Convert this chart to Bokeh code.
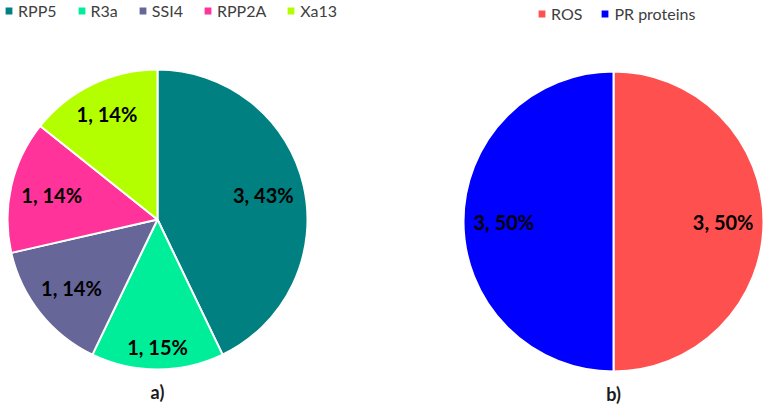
import math
from bokeh.plotting import figure
from bokeh.models import ColumnDataSource, Range1d, Legend, LegendItem, Label
from bokeh.core.properties import value
from bokeh.embed import file_html
from bokeh.resources import INLINE

# ---- data ----
genes = ["RPP5", "R3a", "SSI4", "RPP2A", "Xa13"]
gene_counts = [3, 1, 1, 1, 1]
gene_pct_labels = ["43%", "15%", "14%", "14%", "14%"]
gene_colors = ["#008080", "#00EE9A", "#666699", "#FF3399", "#B3FF00"]

defense = ["ROS", "PR proteins"]
defense_counts = [3, 3]
defense_pct_labels = ["50%", "50%"]
defense_colors = ["#FF5050", "#0000FF"]

panel_labels = ["a)", "b)"]

# ---- layout (canvas pixel space mapped 1:1) ----
W, H = 770, 411
p = figure(width=W, height=H, output_backend="svg", toolbar_location=None,
           x_range=Range1d(0, W), y_range=Range1d(0, H),
           min_border=0, outline_line_color=None)
p.axis.visible = False
p.grid.visible = False
p.background_fill_color = None
p.border_fill_color = None

LABEL_FONT = value("Lato")
R = 150
BOX_W, BOX_H, PAD = 62, 20, 9


def inside_end(cx, cy, r, mid):
    lo, hi = 0.0, r
    c, s = math.cos(mid), math.sin(mid)
    for _ in range(60):
        d = (lo + hi) / 2
        x, y = d * c, d * s
        far = max(math.hypot(x + sx * BOX_W / 2, y + sy * BOX_H / 2)
                  for sx in (-1, 1) for sy in (-1, 1))
        if far <= r - PAD:
            lo = d
        else:
            hi = d
    return cx + lo * c, cy + lo * s


def pie(cx, cy, names, counts, pcts, colors, legend_x, legend_y, spacing):
    total = sum(counts)
    starts, ends, lx, ly, texts = [], [], [], [], []
    cum = 0
    for n, v, pc in zip(names, counts, pcts):
        a0 = math.pi / 2 - 2 * math.pi * cum / total
        cum += v
        a1 = math.pi / 2 - 2 * math.pi * cum / total
        starts.append(a0)
        ends.append(a1)
        tx, ty = inside_end(cx, cy, R, (a0 + a1) / 2)
        lx.append(tx)
        ly.append(ty)
        texts.append(f"{v}, {pc}")
    src = ColumnDataSource(dict(x=[cx] * len(names), y=[cy] * len(names),
                                start=starts, end=ends, color=colors,
                                name=names, lx=lx, ly=ly, text=texts))
    r = p.wedge(x="x", y="y", radius=R, start_angle="start", end_angle="end",
                direction="clock", fill_color="color", line_color="white",
                line_width=2, source=src)
    p.text(x="lx", y="ly", text="text", source=src, text_align="center",
           text_baseline="middle", text_font=LABEL_FONT, text_font_style="bold",
           text_font_size="20px", text_color="#000000")
    items = [LegendItem(label=n, renderers=[r], index=i) for i, n in enumerate(names)]
    leg = Legend(items=items, orientation="horizontal", location=(legend_x, legend_y),
                 glyph_width=11, glyph_height=11, label_standoff=4, spacing=spacing,
                 padding=0, margin=0, border_line_color=None,
                 background_fill_alpha=0, label_text_font="Lato",
                 label_text_font_size="16px", label_text_color="#404040",
                 label_height=14)
    p.add_layout(leg, "center")
    return r


pies = [
    (157, H - 219, genes, gene_counts, gene_pct_labels, gene_colors, 3, 391, 19),
    (613, H - 221, defense, defense_counts, defense_pct_labels, defense_colors, 536, 388, 17),
]
for k, (cx, cy, names, counts, pcts, colors, lgx, lgy, sp) in enumerate(pies):
    pie(cx, cy, names, counts, pcts, colors, lgx, lgy, sp)
    p.add_layout(Label(x=cx, y=cy - R - 22, text=panel_labels[k],
                       text_align="center", text_baseline="middle",
                       text_font="Lato", text_font_style="bold",
                       text_font_size="18px", text_color="#1a1a1a"))

open("out.html", "w").write(file_html(p, INLINE))
